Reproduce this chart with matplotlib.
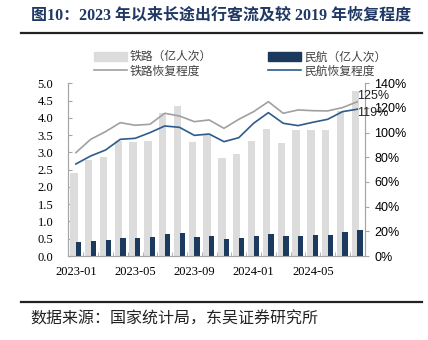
import numpy as np
import matplotlib
matplotlib.use("Agg")
import matplotlib.pyplot as plt
from matplotlib.lines import Line2D
from matplotlib.patches import Patch

months = ["2023-01", "2023-02", "2023-03", "2023-04", "2023-05", "2023-06",
          "2023-07", "2023-08", "2023-09", "2023-10", "2023-11", "2023-12",
          "2024-01", "2024-02", "2024-03", "2024-04", "2024-05", "2024-06",
          "2024-07", "2024-08"]
# 客流（亿人次）
rail = [2.39, 2.78, 2.86, 3.33, 3.31, 3.33, 4.15, 4.34, 3.30, 3.50,
        2.83, 2.94, 3.34, 3.69, 3.26, 3.65, 3.65, 3.65, 4.20, 4.79]
air = [0.41, 0.44, 0.47, 0.51, 0.53, 0.55, 0.64, 0.66, 0.55, 0.58,
       0.50, 0.51, 0.59, 0.64, 0.59, 0.57, 0.61, 0.61, 0.70, 0.74]
# 较2019年同期恢复程度（%）
rail_rec = [83.8, 94.6, 100.8, 108.1, 106.0, 106.8, 115.7, 113.5, 108.9, 110.3,
            103.5, 110.8, 117.0, 125.1, 115.7, 118.4, 117.8, 117.6, 120.3, 125.0]
air_rec = [74.6, 81.1, 85.9, 94.6, 95.4, 100.0, 105.4, 104.3, 97.8, 98.9,
           92.7, 95.9, 107.6, 116.2, 107.6, 105.7, 108.4, 110.8, 117.0, 119.0]
tick_months = ["2023-01", "2023-05", "2023-09", "2024-01", "2024-05"]

cjk = ["Noto Sans CJK SC", "DejaVu Sans"]
serif = ["Liberation Serif", "Noto Sans CJK SC"]
sans = ["Liberation Sans", "DejaVu Sans"]

c_rail = "#DCDCDC"
c_air = "#1B3A5E"
c_rail_line = "#A0A0A0"
c_air_line = "#2E5B8C"
c_spine = "#A6A6A6"

fig = plt.figure(figsize=(4.28, 3.40), dpi=100)
ax = fig.add_axes([0.16, 0.247, 0.692, 0.508])
ax2 = ax.twinx()

x = np.arange(len(months))
ax.bar(x - 0.135, rail, width=0.5, color=c_rail, zorder=2)
ax.bar(x + 0.18, air, width=0.36, color=c_air, zorder=3)

ax2.plot(x, rail_rec, color=c_rail_line, lw=1.2)
ax2.plot(x, air_rec, color=c_air_line, lw=1.2)

ax.set_xlim(-0.5, len(months) - 0.5)
ax.set_ylim(0, 5.0)
ax.set_yticks(np.arange(0, 5.01, 0.5))
ax.set_yticklabels([f"{v:.1f}" for v in np.arange(0, 5.01, 0.5)],
                   family=serif, fontsize=9)
ax2.set_ylim(0, 140)
ax2.set_yticks(np.arange(0, 141, 20))
ax2.set_yticklabels([f"{v}%" for v in range(0, 141, 20)], family=sans, fontsize=9)

ax.set_xticks([months.index(m) for m in tick_months])
ax.set_xticklabels(tick_months, family=serif, fontsize=9)
ax.set_xticks(np.arange(-0.5, len(months)), minor=True)
ax.tick_params(axis="x", which="major", length=0, pad=7)
ax.tick_params(axis="x", which="minor", direction="in", length=3, color=c_spine)
ax.tick_params(axis="y", direction="in", length=3, color=c_spine, pad=11)
ax2.tick_params(axis="y", direction="out", length=3, color=c_spine, pad=4)

for a in (ax, ax2):
    a.spines["top"].set_visible(False)
    for s in ("left", "right", "bottom"):
        a.spines[s].set_color(c_spine)
        a.spines[s].set_linewidth(0.8)

# end-point labels
ax2.annotate(f"{rail_rec[-1]:.0f}%", (x[-1], rail_rec[-1]), xytext=(0, 4),
             textcoords="offset points", ha="left", va="center",
             family=sans, fontsize=9, color="#222222")
ax2.annotate(f"{air_rec[-1]:.0f}%", (x[-1], air_rec[-1]), xytext=(0, -3),
             textcoords="offset points", ha="left", va="center",
             family=sans, fontsize=9, color="#222222")

handles = [Patch(color=c_rail), Line2D([], [], color=c_rail_line, lw=1.2),
           Patch(color=c_air), Line2D([], [], color=c_air_line, lw=1.2)]
labels = ["铁路（亿人次）", "铁路恢复程度", "民航（亿人次）", "民航恢复程度"]
fig.legend(handles, labels, ncol=2, loc="center", bbox_to_anchor=(0.561, 0.812),
           frameon=False, prop={"family": cjk, "size": 8.5}, labelcolor="#404040",
           handlelength=2.8, handleheight=0.85, handletextpad=0.25,
           columnspacing=4.8, labelspacing=0.1, borderpad=0)

# header and footer
fig.text(0.517, 0.955, "图10：2023 年以来长途出行客流及较 2019 年恢复程度",
         ha="center", va="center", family=serif, fontsize=11.5,
         fontweight="bold", color="#1F3864")
fig.add_artist(Line2D([0.048, 0.987], [0.903, 0.903], color="#222222", lw=1.6))
fig.add_artist(Line2D([0.048, 0.987], [0.112, 0.112], color="#222222", lw=1.6))
fig.text(0.072, 0.062, "数据来源：国家统计局，东吴证券研究所",
         ha="left", va="center", family=cjk, fontsize=11.5, color="#222222")

fig.savefig("out.png", dpi=100)
